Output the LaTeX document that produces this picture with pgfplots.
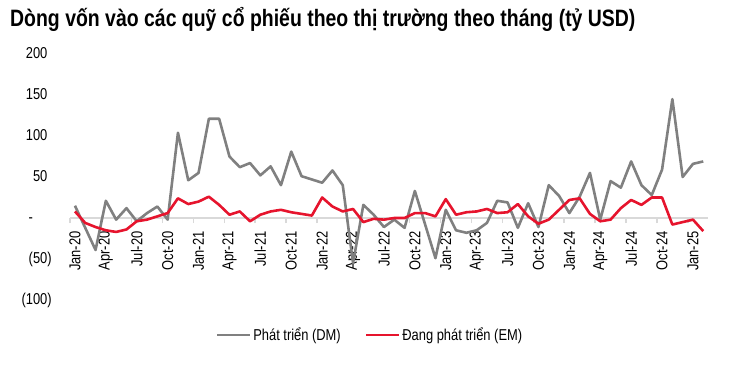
\documentclass[border=0pt]{standalone}
\usepackage{fontspec}
\setmainfont{Liberation Sans}[FakeStretch=0.82]
\usepackage{pgfplots}
\usepackage{pgfplotstable}
\pgfplotsset{compat=1.18}
\definecolor{dmgray}{RGB}{128,128,128}
\definecolor{emred}{RGB}{230,20,45}
\definecolor{zl}{RGB}{217,217,217}

\pgfplotstableread{
m dm em
0 15 8
1 -12 -6
2 -39 -11
3 21 -15
4 -2 -17
5 12 -14
6 -4 -4
7 6 -2
8 14 2
9 -2 6
10 104 24
11 46 17
12 55 20
13 121 26
14 121 16
15 75 4
16 62 8
17 67 -4
18 52 4
19 63 8
20 40 10
21 81 7
22 51 5
23 47 3
24 43 25
25 58 14
26 40 8
27 -55 11
28 16 -5
29 4 -1
30 -11 -2
31 -2 0
32 -12 0
33 33 6
34 -8 6
35 -49 2
36 10 23
37 -15 4
38 -18 7
39 -15 8
40 -6 11
41 21 6
42 19 7
43 -12 17
44 18 2
45 -11 -7
46 40 -2
47 27 10
48 6 22
49 26 24
50 55 5
51 -2 -4
52 45 -2
53 37 12
54 69 22
55 40 16
56 28 25
57 59 25
58 145 -8
59 50 -5
60 66 -2
61 69 -16
}\datatable

\begin{document}
\begin{tikzpicture}[x=1bp,y=1bp]
\useasboundingbox (0,0) rectangle (737,366);
\node[anchor=west, inner sep=0pt, font=\fontsize{23.8}{27}\selectfont\bfseries] at (10,347)
  {Dòng vốn vào các quỹ cổ phiếu theo thị trường theo tháng (tỷ USD)};
\begin{axis}[
  at={(69.8bp,66bp)}, anchor=south west,
  scale only axis, width=638.6bp, height=246bp,
  xmin=-0.5, xmax=61.5, ymin=-100, ymax=200,
  axis y line=left, y axis line style={draw=none},
  axis x line=middle, x axis line style={draw=zl, line width=2bp, -},
  xtick={0,3,...,60},
  xticklabels={Jan-20,Apr-20,Jul-20,Oct-20,Jan-21,Apr-21,Jul-21,Oct-21,Jan-22,Apr-22,Jul-22,Oct-22,Jan-23,Apr-23,Jul-23,Oct-23,Jan-24,Apr-24,Jul-24,Oct-24,Jan-25},
  major x tick style={draw=none},
  minor xtick={-0.5,2.5,...,60},
  minor x tick style={draw=zl, line width=1.5bp},
  xtick align=outside,
  minor tick length=5bp,
  xticklabel style={rotate=90, anchor=east, inner sep=0pt, font=\fontsize{15.8}{18}\selectfont},
  xticklabel shift=9bp,
  ytick={-100,-50,0,50,100,150,200},
  yticklabels={(100),(50),-\phantom{00)},50\phantom{)},100\phantom{)},150\phantom{)},200\phantom{)}},
  ytick style={draw=none},
  yticklabel style={anchor=east, inner sep=0pt, font=\fontsize{15.8}{18}\selectfont},
  yticklabel shift=15.8bp,
  clip=false,
  legend style={at={(0.47,-0.142)}, anchor=center, draw=none, fill=none,
    font=\fontsize{15.8}{18}\selectfont, legend columns=2,
    /tikz/every even column/.append style={column sep=22bp}},
  legend image code/.code={\draw[#1] (0bp,0bp) -- (33bp,0bp);},
]
\addplot[dmgray, line width=2.6bp, line join=round, mark=none] table[x=m, y=dm] {\datatable};
\addlegendentry{Phát triển (DM)}
\addplot[emred, line width=2.6bp, line join=round, mark=none] table[x=m, y=em] {\datatable};
\addlegendentry{Đang phát triển (EM)}
\end{axis}
\end{tikzpicture}
\end{document}
